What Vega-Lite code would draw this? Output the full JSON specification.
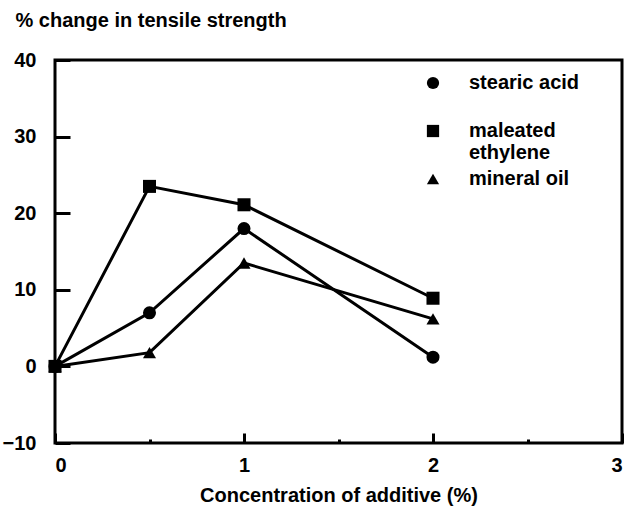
{
  "$schema": "https://vega.github.io/schema/vega-lite/v6.json",
  "width": 567,
  "height": 383,
  "autosize": {"type": "none"},
  "padding": {"left": 55, "top": 60, "right": 6, "bottom": 66},
  "background": "white",
  "config": {
    "font": "Liberation Sans",
    "view": {"stroke": "black", "strokeWidth": 3},
    "axis": {
      "domain": false,
      "grid": false,
      "tickColor": "black",
      "tickWidth": 3,
      "labelColor": "black",
      "labelFont": "Liberation Sans",
      "labelFontSize": 20,
      "labelFontWeight": "bold",
      "titleColor": "black",
      "titleFont": "Liberation Sans",
      "titleFontSize": 20,
      "titleFontWeight": "bold"
    }
  },
  "data": {
    "values": [
      {"additive": "stearic acid", "conc": 0, "change": 0},
      {"additive": "stearic acid", "conc": 0.5, "change": 7},
      {"additive": "stearic acid", "conc": 1, "change": 18},
      {"additive": "stearic acid", "conc": 2, "change": 1.2},
      {"additive": "maleated ethylene", "conc": 0, "change": 0},
      {"additive": "maleated ethylene", "conc": 0.5, "change": 23.5},
      {"additive": "maleated ethylene", "conc": 1, "change": 21.1},
      {"additive": "maleated ethylene", "conc": 2, "change": 8.9},
      {"additive": "mineral oil", "conc": 0, "change": 0},
      {"additive": "mineral oil", "conc": 0.5, "change": 1.8},
      {"additive": "mineral oil", "conc": 1, "change": 13.5},
      {"additive": "mineral oil", "conc": 2, "change": 6.2}
    ]
  },
  "encoding": {
    "x": {
      "field": "conc",
      "type": "quantitative",
      "scale": {"domain": [0, 3], "nice": false, "zero": false},
      "axis": {
        "values": [0, 0.5, 1, 1.5, 2, 2.5, 3],
        "labelExpr": "datum.value % 1 == 0 ? format(datum.value, 'd') : ''",
        "tickSize": {"condition": {"test": "datum.value % 1 != 0", "value": -4}, "value": -10},
        "labelPadding": 22,
        "title": "Concentration of additive (%)",
        "titleBaseline": "alphabetic",
        "titlePadding": 26
      }
    },
    "y": {
      "field": "change",
      "type": "quantitative",
      "scale": {"domain": [-10, 40], "nice": false, "zero": false},
      "axis": {
        "values": [-10, 0, 10, 20, 30, 40],
        "tickSize": -15,
        "labelPadding": 34,
        "title": "% change in tensile strength",
        "titleAngle": 0,
        "titleAlign": "left",
        "titleBaseline": "alphabetic",
        "titleX": -40,
        "titleY": -34
      }
    }
  },
  "layer": [
    {
      "mark": {"type": "line", "color": "black", "strokeWidth": 3},
      "encoding": {"detail": {"field": "additive"}}
    },
    {
      "mark": {"type": "point", "filled": true, "color": "black", "opacity": 1, "size": 170},
      "encoding": {
        "shape": {
          "field": "additive",
          "type": "nominal",
          "scale": {
            "domain": ["stearic acid", "maleated ethylene", "mineral oil"],
            "range": ["circle", "square", "triangle-up"]
          },
          "legend": {
            "title": null,
            "orient": "none",
            "legendX": 368,
            "legendY": 13,
            "symbolSize": 150,
            "symbolFillColor": "black",
            "symbolStrokeColor": "black",
            "labelFontSize": 20,
            "labelFontWeight": "bold",
            "labelColor": "black",
            "labelFont": "Liberation Sans",
            "labelOffset": 26,
            "labelLineHeight": 19,
            "labelExpr": "datum.label == 'maleated ethylene' ? ['maleated', 'ethylene'] : datum.label == 'stearic acid' ? ['stearic acid', ' '] : datum.label",
            "rowPadding": 6
          }
        }
      }
    }
  ]
}
